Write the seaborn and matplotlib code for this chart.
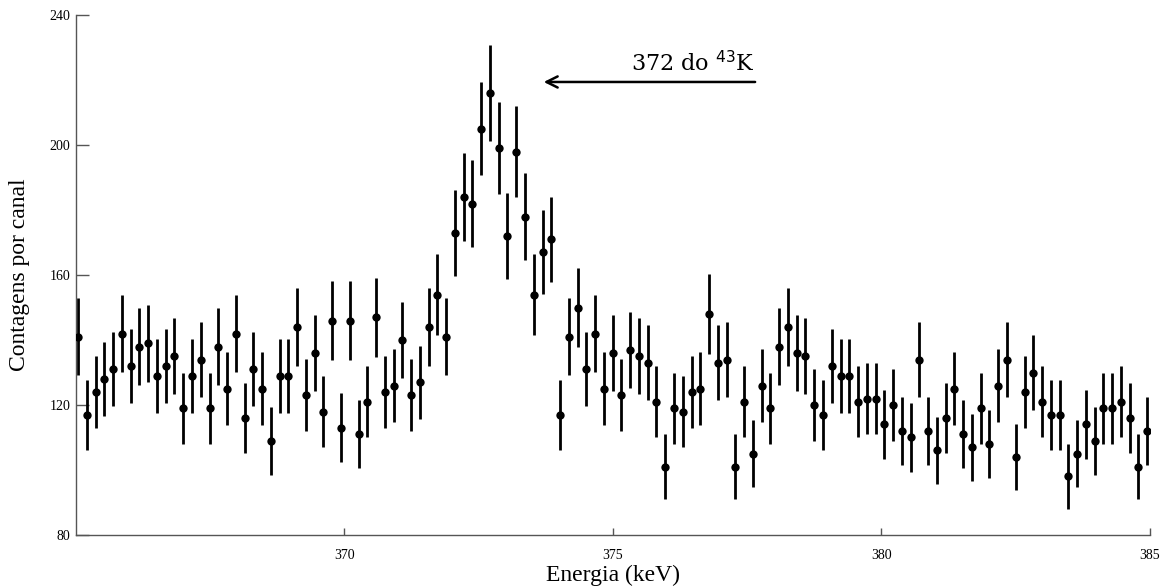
import numpy as np
import pandas as pd
import matplotlib
matplotlib.use("Agg")
import matplotlib.pyplot as plt
import seaborn as sns

# Energy calibration of the channels (keV)
e_start = 365.04
e_step = 0.1632

counts = [141, 117, 124, 128, 131, 142, 132, 138, 139, 129,
          132, 135, 119, 129, 134, 119, 138, 125, 142, 116,
          131, 125, 109, 129, 129, 144, 123, 136, 118, 146,
          113, 146, 111, 121, 147, 124, 126, 140, 123, 127,
          144, 154, 141, 173, 184, 182, 205, 216, 199, 172,
          198, 178, 154, 167, 171, 117, 141, 150, 131, 142,
          125, 136, 123, 137, 135, 133, 121, 101, 119, 118,
          124, 125, 148, 133, 134, 101, 121, 105, 126, 119,
          138, 144, 136, 135, 120, 117, 132, 129, 129, 121,
          122, 122, 114, 120, 112, 110, 134, 112, 106, 116,
          125, 111, 107, 119, 108, 126, 134, 104, 124, 130,
          121, 117, 117, 98, 105, 114, 109, 119, 119, 121,
          116, 101, 112]

x_ticks = [370, 375, 380, 385]
y_ticks = [80, 120, 160, 200, 240]

energy = e_start + e_step * np.arange(len(counts))
df = pd.DataFrame({"energia": energy, "contagens": counts})
df["erro"] = np.sqrt(df["contagens"])

sns.set_theme(style="ticks")
plt.rcParams["font.family"] = ["Liberation Serif", "DejaVu Serif"]
plt.rcParams["text.color"] = "black"
plt.rcParams["axes.labelcolor"] = "black"

fig = plt.figure(figsize=(11.68, 5.87), dpi=100)
ax = fig.add_axes([0.065, 0.0886, 0.9195, 0.8858])

ax.errorbar(df["energia"], df["contagens"], yerr=df["erro"], fmt="none",
            ecolor="black", elinewidth=2.0, capsize=0, zorder=2)
sns.scatterplot(data=df, x="energia", y="contagens", ax=ax, color="black",
                s=36, edgecolor="black", linewidth=0, zorder=3, legend=False)

ax.set_xlim(365, 385)
ax.set_ylim(80, 240)
ax.set_xticks(x_ticks)
ax.set_yticks(y_ticks)
ax.tick_params(direction="in", length=9, width=1, labelsize=10, colors="#555555",
               labelcolor="black")
ax.tick_params(axis="x", length=5, pad=10)
ax.tick_params(axis="y", pad=4)
for s in ["top", "right"]:
    ax.spines[s].set_visible(False)
for s in ["left", "bottom"]:
    ax.spines[s].set_color("#555555")
    ax.spines[s].set_linewidth(1.0)

ax.set_xlabel("Energia (keV)", fontsize=17, labelpad=2)
ax.set_ylabel("Contagens por canal", fontsize=17, labelpad=14)

ax.annotate("", xy=(373.66, 219.4), xytext=(377.7, 219.4),
            arrowprops=dict(arrowstyle="->", color="black", lw=1.8,
                            mutation_scale=20))
ax.text(377.65, 221.3, r"372 do $^{43}$K", ha="right", va="bottom",
        fontsize=16, family="DejaVu Serif", color="black")

fig.savefig("out.png", dpi=100)
